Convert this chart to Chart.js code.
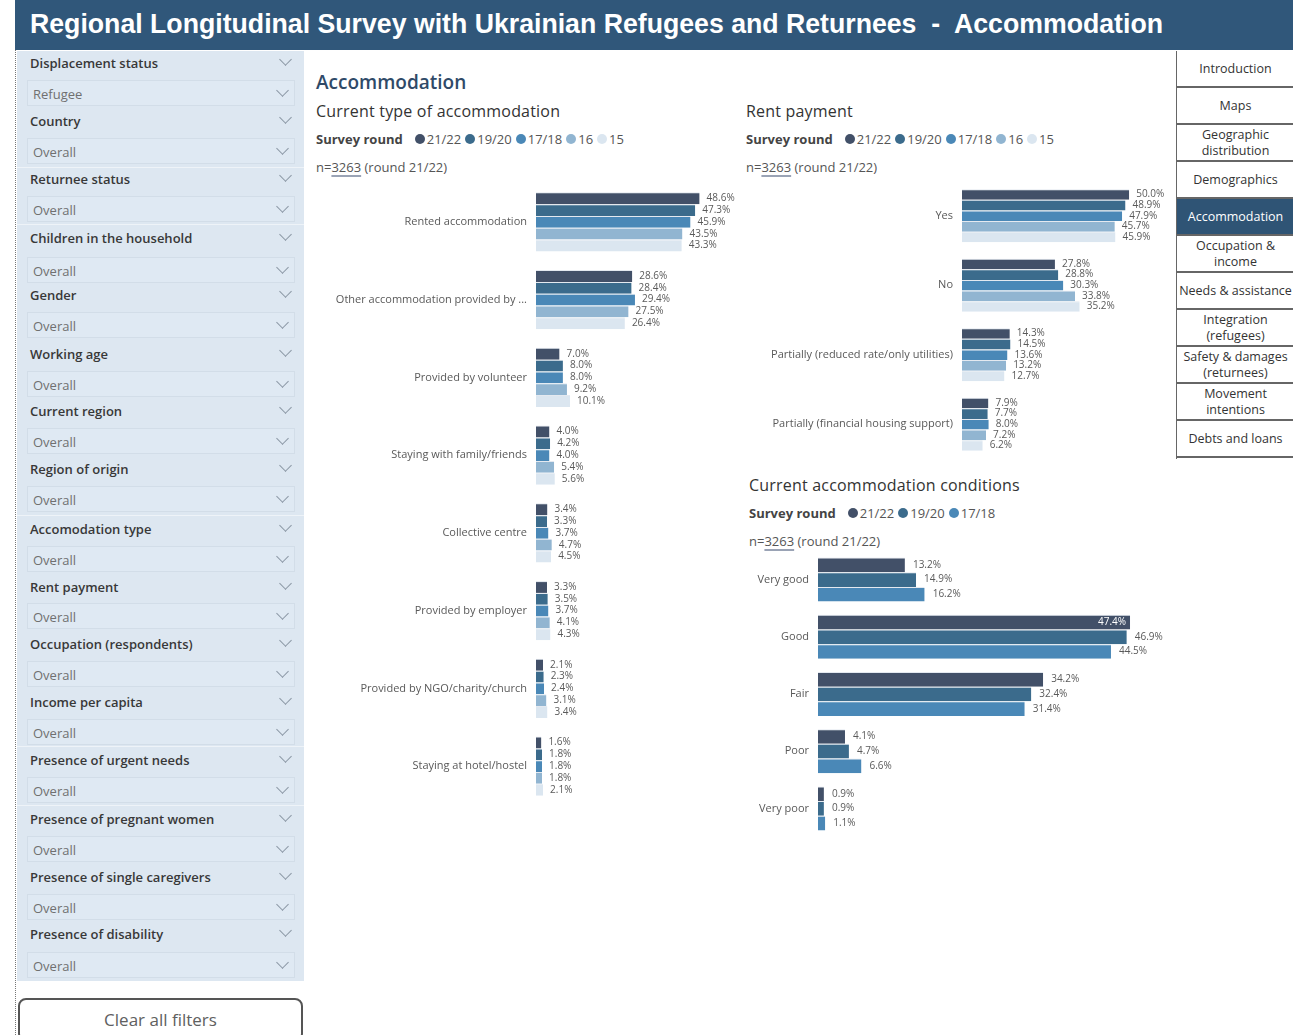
<!DOCTYPE html>
<html>
<head>
<meta charset="utf-8">
<script src="https://cdn.jsdelivr.net/npm/chart.js@4/dist/chart.umd.min.js"></script>
<style>
  html,body{margin:0;padding:0;background:#fff;width:1293px;height:1035px;overflow:hidden;font-family:"Open Sans","Noto Sans",sans-serif;}
  .abs{position:absolute;}
  #dotline{left:15px;top:0;width:0;height:1035px;border-left:1px dotted #777;}
  #header{left:15px;top:0;width:1278px;height:50px;background:#30577a;color:#fff;overflow:hidden;}
  #htxt{position:absolute;left:15px;top:8px;font-family:"Liberation Sans",Arial,sans-serif;font-weight:bold;font-size:28px;line-height:32px;white-space:nowrap;transform-origin:0 0;}
  #panel{left:17px;top:51px;width:287px;height:930px;background:#dde7f1;}
  .fh{position:absolute;left:13px;font-size:13px;font-weight:600;color:#383838;white-space:nowrap;}
  .fv{position:absolute;left:10px;width:268px;height:26px;background:#dfe9f3;border:1px solid #d2dde8;box-sizing:border-box;}
  .fv span{position:absolute;left:5px;top:4px;font-size:13px;color:#707070;}
  .chev{position:absolute;width:8px;height:8px;border-right:1.3px solid #8a96a3;border-bottom:1.3px solid #8a96a3;transform:rotate(45deg);}
  .sep{position:absolute;left:0;width:287px;height:1px;background:#eef3f8;}
  #clear{left:18px;top:998px;width:285px;height:44px;border:2px solid #555;border-radius:8px;box-sizing:border-box;background:#fff;}
  #clear span{position:absolute;left:0;right:0;top:8px;text-align:center;font-size:17px;color:#606060;}
  .title{font-size:19px;font-weight:600;color:#2f4a68;white-space:nowrap;}
  .sub{font-size:16px;font-weight:500;color:#333;white-space:nowrap;letter-spacing:0.2px;}
  .legend{font-size:13px;color:#555;white-space:nowrap;display:flex;align-items:center;}
  .legend b{color:#444;font-weight:700;margin-right:8px;}
  .legend i{display:inline-block;width:10px;height:10px;border-radius:50%;margin-right:2px;margin-left:4px;}
  .nline{font-size:13px;color:#555;white-space:nowrap;}
  .nline u{text-decoration:underline;text-decoration-color:#9aa3b5;text-decoration-thickness:2px;text-underline-offset:3px;}
  #nav{left:1176px;top:51px;width:117px;height:408px;border-left:1.5px solid #666;}
  .nb{position:absolute;left:0;width:117px;height:37px;border-bottom:2px solid #666;box-sizing:border-box;display:flex;align-items:center;justify-content:center;text-align:center;font-size:12.5px;line-height:16px;color:#333;background:#fff;white-space:nowrap;}
  .nb.act{background:#2f5475;color:#fff;}
  canvas{position:absolute;}
</style>
</head>
<body>
<div id="dotline" class="abs"></div>
<div id="header" class="abs"><span id="htxt">Regional Longitudinal Survey with Ukrainian Refugees and Returnees &nbsp;-&nbsp; Accommodation</span></div>
<div id="panel" class="abs"></div>
<div id="clear" class="abs"><span>Clear all filters</span></div>

<div class="abs title" style="left:316px;top:69px;">Accommodation</div>
<div class="abs sub" style="left:316px;top:100px;">Current type of accommodation</div>
<div class="abs legend" id="leg1" style="left:316px;top:130px;"></div>
<div class="abs nline" style="left:316px;top:158px;">n=<u>3263</u> (round 21/22)</div>

<div class="abs sub" style="left:746px;top:100px;">Rent payment</div>
<div class="abs legend" id="leg2" style="left:746px;top:130px;"></div>
<div class="abs nline" style="left:746px;top:158px;">n=<u>3263</u> (round 21/22)</div>

<div class="abs sub" style="left:749px;top:474px;">Current accommodation conditions</div>
<div class="abs legend" id="leg3" style="left:749px;top:504px;"></div>
<div class="abs nline" style="left:749px;top:532px;">n=<u>3263</u> (round 21/22)</div>

<canvas id="c1" width="422" height="622" style="left:316px;top:183px;"></canvas>
<canvas id="c2" width="430" height="278" style="left:746px;top:181px;"></canvas>
<canvas id="c3" width="423" height="286" style="left:740px;top:551px;"></canvas>

<div id="nav" class="abs"></div>

<script>
// ---------- DATA ----------
const rounds = ["21/22", "19/20", "17/18", "16", "15"];
const roundColors = ["#425068", "#3b6b8c", "#4a88b7", "#91b5d1", "#dbe6f0"];

const accomCategories = ["Rented accommodation", "Other accommodation provided by ...", "Provided by volunteer",
  "Staying with family/friends", "Collective centre", "Provided by employer", "Provided by NGO/charity/church",
  "Staying at hotel/hostel"];
const accom_2122 = [48.6, 28.6, 7.0, 4.0, 3.4, 3.3, 2.1, 1.6];
const accom_1920 = [47.3, 28.4, 8.0, 4.2, 3.3, 3.5, 2.3, 1.8];
const accom_1718 = [45.9, 29.4, 8.0, 4.0, 3.7, 3.7, 2.4, 1.8];
const accom_16   = [43.5, 27.5, 9.2, 5.4, 4.7, 4.1, 3.1, 1.8];
const accom_15   = [43.3, 26.4, 10.1, 5.6, 4.5, 4.3, 3.4, 2.1];

const rentCategories = ["Yes", "No", "Partially (reduced rate/only utilities)", "Partially (financial housing support)"];
const rent_2122 = [50.0, 27.8, 14.3, 7.9];
const rent_1920 = [48.9, 28.8, 14.5, 7.7];
const rent_1718 = [47.9, 30.3, 13.6, 8.0];
const rent_16   = [45.7, 33.8, 13.2, 7.2];
const rent_15   = [45.9, 35.2, 12.7, 6.2];

const condRounds = ["21/22", "19/20", "17/18"];
const condCategories = ["Very good", "Good", "Fair", "Poor", "Very poor"];
const cond_2122 = [13.2, 47.4, 34.2, 4.1, 0.9];
const cond_1920 = [14.9, 46.9, 32.4, 4.7, 0.9];
const cond_1718 = [16.2, 44.5, 31.4, 6.6, 1.1];

const filters = [
  ["Displacement status", "Refugee"], ["Country", "Overall"], ["Returnee status", "Overall"],
  ["Children in the household", "Overall"], ["Gender", "Overall"], ["Working age", "Overall"],
  ["Current region", "Overall"], ["Region of origin", "Overall"], ["Accomodation type", "Overall"],
  ["Rent payment", "Overall"], ["Occupation (respondents)", "Overall"], ["Income per capita", "Overall"],
  ["Presence of urgent needs", "Overall"], ["Presence of pregnant women", "Overall"],
  ["Presence of single caregivers", "Overall"], ["Presence of disability", "Overall"]
];
const navItems = ["Introduction", "Maps", "Geographic<br>distribution", "Demographics", "Accommodation",
  "Occupation &amp;<br>income", "Needs &amp; assistance", "Integration<br>(refugees)",
  "Safety &amp; damages<br>(returnees)", "Movement<br>intentions", "Debts and loans"];
const activeNav = 4;

// ---------- LAYOUT (UI only) ----------
const headY = [63, 121, 179, 238, 295, 354, 411, 469, 529, 587, 644, 702, 760, 819, 877, 934];
const valY  = [93, 151, 209, 270, 325, 384, 441, 499, 559, 616, 674, 732, 790, 849, 907, 965];
const sepY  = [167, 224, 515, 746, 805];

// condense header text to the reference width
const htxt = document.getElementById('htxt');
const hw = htxt.getBoundingClientRect().width;
htxt.style.transform = 'scaleX(' + (1133 / hw) + ')';

const panel = document.getElementById('panel');
filters.forEach((f, i) => {
  const h = document.createElement('div'); h.className = 'fh';
  h.style.top = (headY[i] - 51 - 9) + 'px'; h.textContent = f[0]; panel.appendChild(h);
  const c1 = document.createElement('div'); c1.className = 'chev';
  c1.style.left = '264px'; c1.style.top = (headY[i] - 51 - 8) + 'px'; panel.appendChild(c1);
  const v = document.createElement('div'); v.className = 'fv';
  v.style.top = (valY[i] - 51 - 13) + 'px';
  v.innerHTML = '<span>' + f[1] + '</span>';
  const c2 = document.createElement('div'); c2.className = 'chev';
  c2.style.left = '250px'; c2.style.top = '5px'; v.appendChild(c2);
  panel.appendChild(v);
});
sepY.forEach(y => { const s = document.createElement('div'); s.className = 'sep'; s.style.top = (y - 51) + 'px'; panel.appendChild(s); });

const nav = document.getElementById('nav');
navItems.forEach((t, i) => {
  const b = document.createElement('div'); b.className = 'nb' + (i === activeNav ? ' act' : '');
  b.style.top = (i * 37) + 'px'; b.innerHTML = t; nav.appendChild(b);
});

function buildLegend(id, names) {
  const el = document.getElementById(id);
  let html = '<b>Survey round</b>';
  names.forEach((n, i) => { html += '<i style="background:' + roundColors[i] + '"></i>' + n; });
  el.innerHTML = html;
}
buildLegend('leg1', rounds);
buildLegend('leg2', rounds);
buildLegend('leg3', condRounds);

// ---------- CHARTS ----------
const valueLabels = {
  id: 'valueLabels',
  afterDatasetsDraw(chart, args, opts) {
    const ctx = chart.ctx;
    ctx.save();
    ctx.font = opts.font;
    ctx.textBaseline = 'middle';
    chart.data.datasets.forEach((ds, i) => {
      const meta = chart.getDatasetMeta(i);
      meta.data.forEach((bar, j) => {
        const txt = ds.data[j].toFixed(1) + '%';
        const w = ctx.measureText(txt).width;
        const x = bar.x + opts.offset;
        if (x + w > chart.width) {
          ctx.fillStyle = '#ffffff'; ctx.textAlign = 'right';
          ctx.fillText(txt, bar.x - 4, bar.y);
        } else {
          ctx.fillStyle = opts.color; ctx.textAlign = 'left';
          ctx.fillText(txt, x, bar.y);
        }
      });
    });
    ctx.restore();
  }
};

function makeChart(id, labels, series, names, axisWidth, xMax, catPct, labelOffset) {
  const datasets = series.map((d, i) => ({
    label: names[i], data: d, backgroundColor: roundColors[i],
    borderColor: 'rgba(225,231,238,0.9)', borderWidth: { top: 1, bottom: 0, left: 0, right: 0 },
    borderSkipped: false,
    barPercentage: 1.0, categoryPercentage: catPct
  }));
  return new Chart(document.getElementById(id), {
    type: 'bar',
    data: { labels: labels, datasets: datasets },
    plugins: [valueLabels],
    options: {
      indexAxis: 'y', responsive: false, animation: false,
      layout: { padding: 0 },
      plugins: {
        legend: { display: false }, tooltip: { enabled: false },
        valueLabels: { font: '10px "Open Sans","Noto Sans",sans-serif', color: '#5a5a5a', offset: labelOffset }
      },
      scales: {
        x: { display: false, min: 0, max: xMax },
        y: {
          grid: { display: false, drawTicks: false }, border: { display: false },
          ticks: { padding: 9, color: '#595959', font: { family: '"Open Sans","Noto Sans",sans-serif', size: 11 } },
          afterFit(scale) { scale.width = axisWidth; scale.paddingTop = 0; scale.paddingBottom = 0; }
        }
      }
    }
  });
}

makeChart('c1', accomCategories, [accom_2122, accom_1920, accom_1718, accom_16, accom_15], rounds,
  220, 60, 0.76, 7);
makeChart('c2', rentCategories, [rent_2122, rent_1920, rent_1718, rent_16, rent_15], rounds,
  216, 64, 0.765, 7);
makeChart('c3', condCategories, [cond_2122, cond_1920, cond_1718], condRounds,
  78, 52.4, 0.77, 8);
</script>
</body>
</html>
